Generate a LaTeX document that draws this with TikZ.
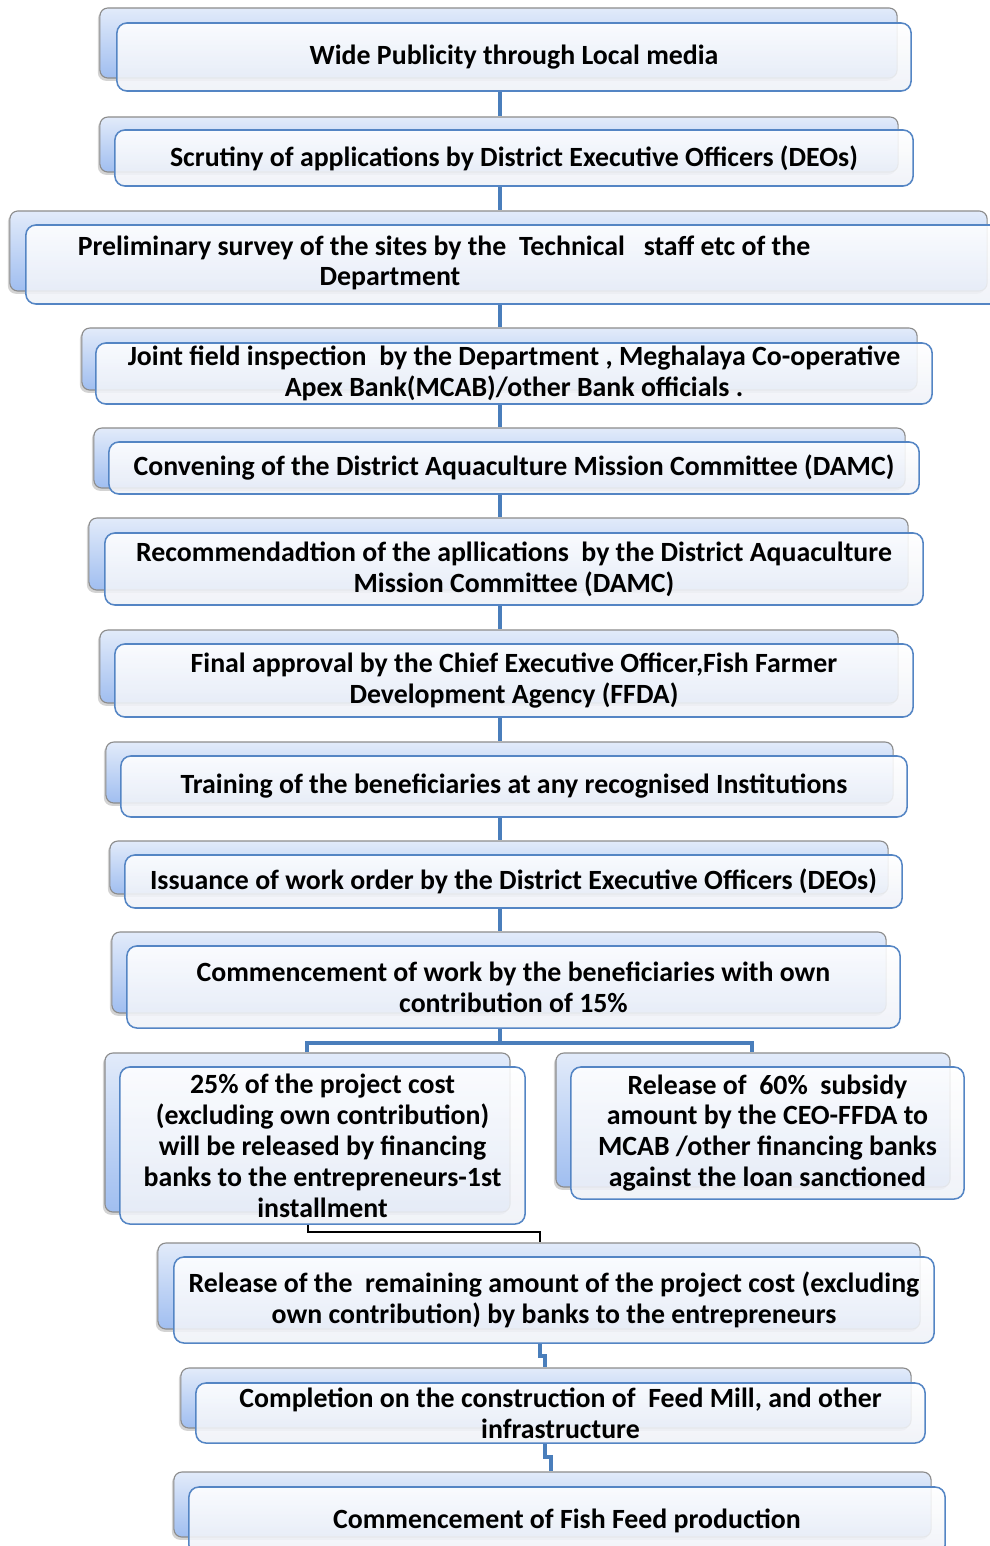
\documentclass[tikz,border=0pt]{standalone}
\usepackage{fontspec}
\setmainfont{Carlito}
\usetikzlibrary{shadows,backgrounds}
\definecolor{linkblue}{RGB}{74,126,187}
\definecolor{frontblue}{RGB}{84,133,196}
\definecolor{backtop}{RGB}{226,235,250}
\definecolor{backbottom}{RGB}{160,190,240}
\definecolor{frontbottom}{RGB}{238,241,247}
\begin{document}
\begin{tikzpicture}[x=0.025cm, y=-0.025cm,
    backbox/.style={draw=black!45, line width=0.8pt, rounded corners=0.2cm,
        top color=backtop, bottom color=backbottom,
        drop shadow={shadow xshift=-0.5mm, shadow yshift=-0.7mm, opacity=0.35}},
    frontbox/.style={draw=frontblue, line width=1.1pt, rounded corners=0.25cm,
        top color=white, bottom color=frontbottom, fill opacity=0.88,
        text opacity=1, inner sep=0pt, align=center,
        font=\fontsize{19.8}{22}\selectfont\bfseries},
    steptext/.style={inner sep=0pt, align=center,
        font=\fontsize{19.8}{22}\selectfont\bfseries},
    link/.style={linkblue, line width=2.8pt},
    thinlink/.style={black, line width=0.9pt}]
\useasboundingbox (0,0) rectangle (990,1546);

% step 1
\node[backbox, minimum width=19.925cm, minimum height=1.75cm] (b1) at (498.5,43) {};
\node[frontbox, minimum width=19.85cm, minimum height=1.7cm] (s1) at (514,57)
    {Wide Publicity through Local media};
% step 2
\node[backbox, minimum width=19.95cm, minimum height=1.375cm] (b2) at (499,144.5) {};
\node[frontbox, minimum width=19.95cm, minimum height=1.4cm] (s2) at (514,158)
    {Scrutiny of applications by District Executive Officers (DEOs)};
% step 3
\node[backbox, minimum width=24.425cm, minimum height=2cm] (b3) at (498.5,251) {};
\node[frontbox, minimum width=24.475cm, minimum height=1.975cm] (s3) at (515.5,264.5) {};
\node[steptext] (t3) at (444,248)
    {Preliminary survey of the sites by the\ \ Technical\ \ \ staff etc of the};
\node[steptext] (t3b) at (390,279) {Department};
% step 4
\node[backbox, minimum width=20.875cm, minimum height=1.55cm] (b4) at (499.5,359) {};
\node[frontbox, minimum width=20.9cm, minimum height=1.525cm] (s4) at (514,373.5)
    {Joint field inspection\ \ by the Department , Meghalaya Co-operative\\ Apex Bank(MCAB)/other Bank officials .};
% step 5
\node[backbox, minimum width=20.275cm, minimum height=1.5cm] (b5) at (499.5,458) {};
\node[frontbox, minimum width=20.25cm, minimum height=1.3cm] (s5) at (514,468)
    {Convening of the District Aquaculture Mission Committee (DAMC)};
% step 6
\node[backbox, minimum width=20.475cm, minimum height=1.8cm] (b6) at (498.5,554) {};
\node[frontbox, minimum width=20.45cm, minimum height=1.8cm] (s6) at (514,569)
    {Recommendadtion of the apllications\ \ by the District Aquaculture\\ Mission Committee (DAMC)};
% step 7
\node[backbox, minimum width=19.95cm, minimum height=1.825cm] (b7) at (499,666.5) {};
\node[frontbox, minimum width=19.95cm, minimum height=1.825cm] (s7) at (514,680.5)
    {Final approval by the Chief Executive Officer,Fish Farmer\\ Development Agency (FFDA)};
% step 8
\node[backbox, minimum width=19.675cm, minimum height=1.525cm] (b8) at (499.5,772.5) {};
\node[frontbox, minimum width=19.65cm, minimum height=1.525cm] (s8) at (514,786.5)
    {Training of the beneficiaries at any recognised Institutions};
% step 9
\node[backbox, minimum width=19.45cm, minimum height=1.325cm] (b9) at (499,867.5) {};
\node[frontbox, minimum width=19.425cm, minimum height=1.325cm] (s9) at (513.5,881.5)
    {Issuance of work order by the District Executive Officers (DEOs)};
% step 10
\node[backbox, minimum width=19.35cm, minimum height=2.025cm] (b10) at (499,972.5) {};
\node[frontbox, minimum width=19.325cm, minimum height=2.05cm] (s10) at (513.5,987)
    {Commencement of work by the beneficiaries with own\\ contribution of 15\%};
% step 11, left and right
\node[backbox, minimum width=10.125cm, minimum height=3.975cm] (b11a) at (307.5,1132.5) {};
\node[frontbox, minimum width=10.125cm, minimum height=3.925cm] (s11a) at (322.5,1145.5)
    {25\% of the project cost\\ (excluding own contribution)\\ will be released by financing\\
     banks to the entrepreneurs-1st\\ installment};
\node[backbox, minimum width=9.85cm, minimum height=3.35cm] (b11b) at (753,1120) {};
\node[frontbox, minimum width=9.825cm, minimum height=3.3cm] (s11b) at (767.5,1133)
    {Release of\ \ 60\%\ \ subsidy\\ amount by the CEO-FFDA to\\ MCAB /other financing banks\\
     against the loan sanctioned};
% step 12
\node[backbox, minimum width=19.05cm, minimum height=2.15cm] (b12) at (539,1286) {};
\node[frontbox, minimum width=19cm, minimum height=2.15cm] (s12) at (554,1300)
    {Release of the\ \ remaining amount of the project cost (excluding\\ own contribution) by banks to the entrepreneurs};
% step 13
\node[backbox, minimum width=18.25cm, minimum height=1.5cm] (b13) at (546,1398) {};
\node[frontbox, minimum width=18.225cm, minimum height=1.5cm] (s13) at (560.5,1413)
    {Completion on the construction of\ \ Feed Mill, and other\\ infrastructure};
% step 14
\node[backbox, minimum width=18.925cm, minimum height=1.625cm] (b14) at (552.5,1504.5) {};
\node[frontbox, minimum width=18.9cm, minimum height=1.7cm] (s14) at (567,1521)
    {Commencement of Fish Feed production};

% connectors
\coordinate (spine) at (500,0);
\coordinate (forkL) at (307,1043);
\coordinate (forkR) at (752,1043);
\coordinate (stepL) at (308,1232);
\coordinate (stepR) at (540,1232);
\coordinate (jogA) at (540,1356);
\coordinate (jogB) at (545,1457);
\coordinate (jogC) at (551,0);
\begin{scope}[on background layer]
\draw[link] (s1.south -| spine) -- (b2.north -| spine);
\draw[link] (s2.south -| spine) -- (b3.north -| spine);
\draw[link] (s3.south -| spine) -- (b4.north -| spine);
\draw[link] (s4.south -| spine) -- (b5.north -| spine);
\draw[link] (s5.south -| spine) -- (b6.north -| spine);
\draw[link] (s6.south -| spine) -- (b7.north -| spine);
\draw[link] (s7.south -| spine) -- (b8.north -| spine);
\draw[link] (s8.south -| spine) -- (b9.north -| spine);
\draw[link] (s9.south -| spine) -- (b10.north -| spine);
\draw[link] (s10.south -| spine) -- (forkL -| spine);
\draw[link] (b11a.north -| forkL) -- (forkL) -- (forkR) -- (b11b.north -| forkR);
\draw[thinlink] (s11a.south -| stepL) -- (stepL) -- (stepR) -- (b12.north -| stepR);
\draw[link] (s12.south -| jogA) -- (jogA) -- (jogA -| jogB) -- (b13.north -| jogB);
\draw[link] (s13.south -| jogB) -- (jogB) -- (jogB -| jogC) -- (b14.north -| jogC);
\end{scope}
\end{tikzpicture}
\end{document}
